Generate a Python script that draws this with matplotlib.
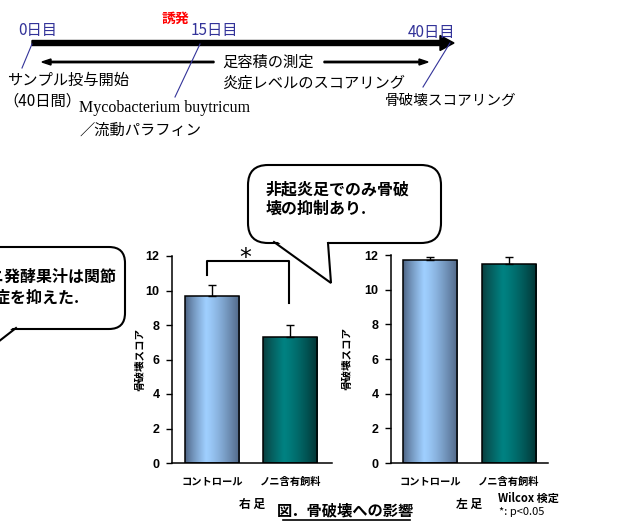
import numpy as np
import matplotlib
matplotlib.use("Agg")
import matplotlib.pyplot as plt
from matplotlib.patches import FancyBboxPatch, FancyArrow, Polygon
from matplotlib.colors import to_rgb

plt.rcParams['font.family'] = ['Noto Sans CJK JP', 'DejaVu Sans']

# data
groups = ["コントロール", "ノニ含有飼料"]
right_foot = [9.7, 7.3]
right_err = [0.6, 0.7]
left_foot = [11.7, 11.5]
left_err = [0.2, 0.4]
yticks = [0, 2, 4, 6, 8, 10, 12]

W, H = 624, 524
fig = plt.figure(figsize=(W / 100, H / 100), dpi=100)

# overlay in pixel coords for the timeline and callouts
ov = fig.add_axes([0, 0, 1, 1])
ov.set_xlim(0, W)
ov.set_ylim(H, 0)
ov.axis("off")

blue = "#333399"

# timeline
ov.add_patch(FancyArrow(32, 43, 422, 0, width=5, head_width=15, head_length=14,
                        length_includes_head=True, color="black"))
ov.add_patch(FancyArrow(214, 62, -172, 0, width=1.4, head_width=6, head_length=9,
                        length_includes_head=True, color="black"))
ov.add_patch(FancyArrow(324, 62, 104, 0, width=1.4, head_width=6, head_length=9,
                        length_includes_head=True, color="black"))
for (x1, y1, x2, y2) in [(32, 44, 22, 68), (200, 44, 175, 97), (450, 43, 423, 87)]:
    ov.plot([x1, x2], [y1, y2], color=blue, lw=0.8)

jp = 11
ov.text(18, 31, "0日目", color=blue, fontsize=jp, va="center")
ov.text(191, 31, "15日目", color=blue, fontsize=jp, va="center")
ov.text(408, 32, "40日目", color=blue, fontsize=jp, va="center")
ov.text(162, 19, "誘発", color="red", fontsize=10, va="center", fontweight="bold")
ov.text(222, 62, "足容積の測定", fontsize=jp, va="center")
ov.text(222, 83, "炎症レベルのスコアリング", fontsize=jp, va="center")
ov.text(7, 80, "サンプル投与開始", fontsize=jp, va="center")
ov.text(3, 101, "（40日間）", fontsize=jp, va="center")
ov.text(79, 108, "Mycobacterium buytricum", fontsize=11.5, va="center",
        family="Liberation Serif")
ov.text(79, 130, "／流動パラフィン", fontsize=jp, va="center")
ov.text(385, 101, "骨破壊スコアリング", fontsize=10.5, va="center")


def callout(x0, y0, x1, y1, tail, r=18):
    box = FancyBboxPatch((x0 + r, y0 + r), x1 - x0 - 2 * r, y1 - y0 - 2 * r,
                         boxstyle="round,pad=%d" % r, fc="white", ec="black",
                         lw=1.5, zorder=5)
    ov.add_patch(box)
    (ax_, ay_), (tx, ty), (bx, by) = tail
    ov.add_patch(Polygon([(ax_, ay_ - 3), (tx, ty), (bx, by - 3)], closed=True,
                         fc="white", ec="none", zorder=6))
    ov.plot([ax_, tx, bx], [ay_, ty, by], color="black", lw=1.5, zorder=7,
            solid_joinstyle="miter")


callout(248, 165, 441, 243, [(274, 242), (331, 283), (328, 243)], r=20)
ov.text(266, 199, "非起炎足でのみ骨破\n壊の抑制あり.", fontsize=11.5,
        fontweight="bold", va="center", linespacing=1.2, zorder=8)

callout(-60, 247, 125, 329, [(16, 328), (-20, 356), (-5, 328)], r=16)
ov.text(116, 277, "ノニ発酵果汁は関節", fontsize=11.5, fontweight="bold",
        va="center", ha="right", zorder=8)
ov.text(-22, 298, "炎症を抑えた.", fontsize=11.5, fontweight="bold",
        va="center", zorder=8)


def grad_colors(dark_l, light, dark_r, n=200):
    t = np.linspace(0, 1, n)
    dl, li, dr = np.array(to_rgb(dark_l)), np.array(to_rgb(light)), np.array(to_rgb(dark_r))
    out = np.zeros((n, 3))
    peak = 0.38
    for i, v in enumerate(t):
        if v < peak:
            s = (v / peak) ** 0.8
            out[i] = dl + (li - dl) * s
        else:
            s = ((v - peak) / (1 - peak)) ** 1.3
            out[i] = li + (dr - li) * s
    return out[np.newaxis, :, :]


grads = [grad_colors("#4a5f7e", "#9fcfff", "#4f6686"),
         grad_colors("#0b3b3b", "#008282", "#033434")]


def bar_panel(rect, vals, errs, xlim, xlabel, ylab_off):
    ax = fig.add_axes(rect)
    x = np.arange(len(vals))
    w = 0.69
    bars = ax.bar(x, vals, w, color="none", edgecolor="black", lw=1.1, zorder=3)
    for b, g in zip(bars, grads):
        im = ax.imshow(g, extent=[b.get_x(), b.get_x() + w, 0, b.get_height()],
                       aspect="auto", zorder=2, interpolation="bilinear")
        im.set_clip_path(b)
    ax.errorbar(x, vals, yerr=[np.zeros(len(errs)), errs], fmt="none",
                ecolor="black", elinewidth=1.0, capsize=3, capthick=1.0, zorder=4)
    ax.set_xlim(*xlim)
    ax.set_ylim(0, 12)
    ax.set_yticks(yticks)
    ax.set_yticklabels([str(v) for v in yticks], family="Liberation Sans",
                       fontsize=9, fontweight="bold")
    ax.set_xticks(x)
    ax.set_xticklabels(groups, fontsize=7.4, fontweight="bold")
    ax.tick_params(axis="x", length=0, pad=10)
    ax.tick_params(axis="y", length=4, width=1, direction="out", pad=5)
    for s in ["top", "right"]:
        ax.spines[s].set_visible(False)
    for s in ["left", "bottom"]:
        ax.spines[s].set_linewidth(1.1)
    ax.set_xlabel(xlabel, fontsize=8.5, fontweight="bold", labelpad=8)
    ax.set_ylabel("骨破壊スコア", fontsize=7.6, fontweight="bold")
    ax.yaxis.set_label_coords(-ylab_off / (rect[2] * W), 0.5)
    ax.patch.set_alpha(0)
    return ax, x


axL, xL = bar_panel([172 / W, 61 / H, 160 / W, 207 / H], right_foot, right_err,
                    (-0.51, 1.53), "右 足", 27)
axR, xR = bar_panel([391 / W, 61 / H, 157 / W, 208 / H], left_foot, left_err,
                    (-0.5, 1.5), "左 足", 39)

# significance bracket
axL.plot([xL[0] - 0.06, xL[0] - 0.06, xL[1] - 0.02, xL[1] - 0.02],
         [10.9, 11.7, 11.7, 9.3], color="black", lw=1.5, clip_on=False, zorder=5)
axL.text(0.42, 11.9, "*", fontsize=17, ha="center", va="center",
         family="DejaVu Sans", clip_on=False)

fig.text(498 / W, 1 - 498 / H, "Wilcox 検定", fontsize=8, fontweight="bold", va="center")
fig.text(499 / W, 1 - 512 / H, "*: p<0.05", fontsize=8, va="center")
fig.text(346 / W, 1 - 510 / H, "図．骨破壊への影響", fontsize=11, fontweight="bold",
         ha="center", va="center")
ov.plot([283, 410], [520, 520], color="black", lw=1.2)

fig.savefig("out.png", dpi=100)
